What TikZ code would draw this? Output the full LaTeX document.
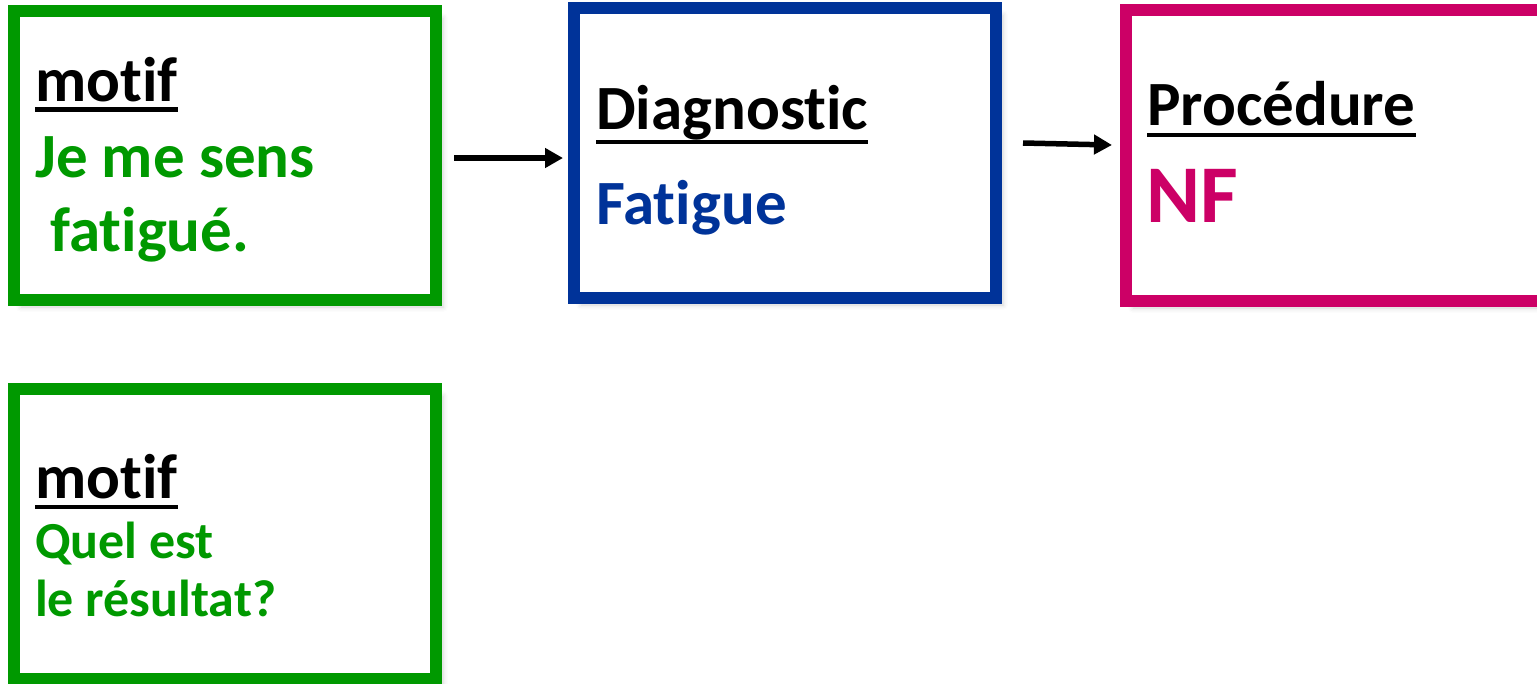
\documentclass[tikz,border=0pt]{standalone}
\usepackage{fontspec}
\setmainfont{Carlito}[Ligatures={NoCommon,NoContextual}]
\usetikzlibrary{arrows.meta,shadows.blur}
\definecolor{cgreen}{RGB}{0,153,0}
\definecolor{cblue}{RGB}{0,51,153}
\definecolor{cmag}{RGB}{204,0,102}
\tikzset{
  box/.style={draw, line width=12pt, fill=white, minimum width=422pt, minimum height=290pt, inner sep=0pt,
    blur shadow={shadow xshift=7pt, shadow yshift=-7pt, shadow blur radius=5pt, shadow opacity=18}},
  txt/.style={anchor=base west, inner sep=0pt, font=\bfseries\fontsize{63}{63}\selectfont},
  small/.style={anchor=base west, inner sep=0pt, font=\bfseries\fontsize{52}{52}\selectfont},
  big/.style={anchor=base west, inner sep=0pt, font=\bfseries\fontsize{82}{82}\selectfont},
  uline/.style={line width=4.5pt, black},
  arr/.style={line width=5.5pt, -{Triangle[length=18pt,width=19pt]}}
}
\begin{document}
\begin{tikzpicture}[x=1pt,y=-1pt]
\useasboundingbox (0,0) rectangle (1537,683);
% boxes
\node[box, draw=cgreen, minimum height=289pt] (b1) at (225,155.5) {};
\node[box, draw=cblue] (b2) at (785,153) {};
\node[box, draw=cmag, minimum height=291pt] (b3) at (1337,155.5) {};
\node[box, draw=cgreen] (b4) at (225,534) {};
% box 1
\node[txt] (m1) at (35,101) {motif};
\draw[uline] ([yshift=-8.5pt]m1.base west) -- ([yshift=-8.5pt]m1.base east);
\node[txt, text=cgreen] (j1) at (35,177) {Je me sens};
\node[txt, text=cgreen] (j2) at (35,251) {\hspace{15pt}fatigué.};
% box 2
\node[txt] (d1) at (596,129) {Diagnostic};
\draw[uline] ([yshift=-13pt]d1.base west) -- ([yshift=-13pt]d1.base east);
\node[txt, text=cblue] (f1) at (596,224) {Fatigue};
% box 3
\node[txt] (p1) at (1147,125) {Procédure};
\draw[uline] ([yshift=-10pt]p1.base west) -- ([yshift=-10pt]p1.base east);
\node[big, text=cmag] (n1) at (1146,222) {NF};
% box 4
\node[txt] (m2) at (35,498) {motif};
\draw[uline] ([yshift=-9pt]m2.base west) -- ([yshift=-9pt]m2.base east);
\node[small, text=cgreen] (q1) at (35,558) {Quel est};
\node[small, text=cgreen] (q2) at (35,616) {le résultat?};
% arrows
\draw[arr] ([xshift=12pt,yshift=-2.5pt]b1.east) -- ([xshift=-5pt,yshift=-5pt]b2.west);
\draw[arr] ([xshift=21pt,yshift=10pt]b2.east) -- ([xshift=-8pt,yshift=10.5pt]b3.west);
\end{tikzpicture}
\end{document}
